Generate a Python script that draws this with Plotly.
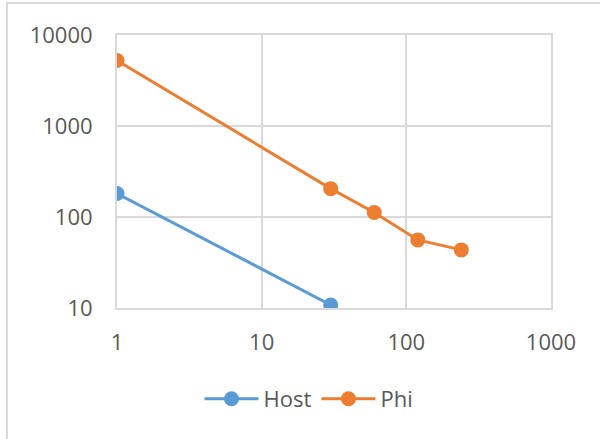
import plotly.graph_objects as go

host_x = [1, 30]
host_y = [181, 10.8]
phi_x = [1, 30, 60, 120, 240]
phi_y = [5250, 205, 112, 56, 43.5]

x_ticks = [1, 10, 100, 1000]
y_ticks = [10, 100, 1000, 10000]

FONT = "Open Sans"
GRID = "#d9d9d9"
TXT = "#595959"

fig = go.Figure()
fig.add_trace(go.Scatter(x=host_x, y=host_y, name="Host", mode="lines+markers",
                         line=dict(color="#5B9BD5", width=3),
                         marker=dict(color="#5B9BD5", size=15)))
fig.add_trace(go.Scatter(x=phi_x, y=phi_y, name="Phi", mode="lines+markers",
                         line=dict(color="#ED7D31", width=3),
                         marker=dict(color="#ED7D31", size=15)))

W, H = 600, 439
L, R, T, B = 117, 49, 35, 131
pw, ph = W - L - R, H - T - B

def px2paper_x(px):
    return (px - L) / pw

def py2paper_y(py):
    return (H - B - py) / ph

fig.update_layout(
    width=W, height=H,
    margin=dict(l=L, r=R, t=T, b=B, autoexpand=False),
    paper_bgcolor="white", plot_bgcolor="white",
    font=dict(family=FONT, size=22, color=TXT),
    showlegend=True,
    legend=dict(orientation="h", x=px2paper_x(309), xanchor="center",
                y=py2paper_y(399), yanchor="middle", itemwidth=54,
                font=dict(family=FONT, size=22, color=TXT),
                bgcolor="rgba(0,0,0,0)"),
    xaxis=dict(type="log", range=[0, 3], tickvals=x_ticks,
               ticktext=[str(v) for v in x_ticks],
               showgrid=True, gridcolor=GRID, gridwidth=2,
               showline=True, linecolor=GRID, linewidth=2, mirror=True,
               zeroline=False, ticks="", ticklabelstandoff=14,
               tickfont=dict(family=FONT, size=22, color=TXT)),
    yaxis=dict(type="log", range=[1, 4], tickvals=y_ticks,
               ticktext=[str(v) for v in y_ticks],
               showgrid=True, gridcolor=GRID, gridwidth=2,
               showline=True, linecolor=GRID, linewidth=2, mirror=True,
               zeroline=False, ticks="", ticklabelstandoff=18,
               tickfont=dict(family=FONT, size=22, color=TXT)),
    shapes=[dict(type="rect", xref="paper", yref="paper",
                 x0=px2paper_x(7), x1=px2paper_x(700),
                 y0=py2paper_y(600), y1=py2paper_y(3),
                 line=dict(color=GRID, width=2), fillcolor="rgba(0,0,0,0)",
                 layer="below")],
)

fig.write_html("out.html", config={"displayModeBar": False},
               post_script="document.body.style.margin='0';document.body.style.overflow='hidden';")
